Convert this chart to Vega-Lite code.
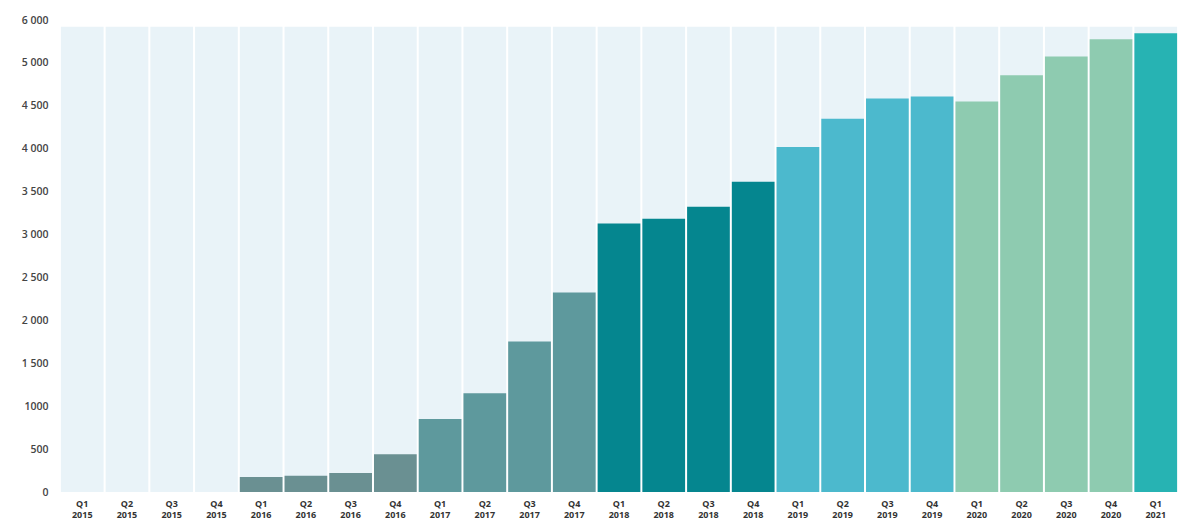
{
  "$schema": "https://vega.github.io/schema/vega-lite/v6.json",
  "width": 1118,
  "height": 472,
  "autosize": {"type": "none"},
  "padding": {"left": 60, "top": 20, "right": 3, "bottom": 38},
  "background": "white",
  "data": {
    "values": [
      {"quarter": "Q1 2015", "year": "2015", "value": 0},
      {"quarter": "Q2 2015", "year": "2015", "value": 0},
      {"quarter": "Q3 2015", "year": "2015", "value": 0},
      {"quarter": "Q4 2015", "year": "2015", "value": 0},
      {"quarter": "Q1 2016", "year": "2016", "value": 175},
      {"quarter": "Q2 2016", "year": "2016", "value": 190},
      {"quarter": "Q3 2016", "year": "2016", "value": 220},
      {"quarter": "Q4 2016", "year": "2016", "value": 440},
      {"quarter": "Q1 2017", "year": "2017", "value": 850},
      {"quarter": "Q2 2017", "year": "2017", "value": 1150},
      {"quarter": "Q3 2017", "year": "2017", "value": 1755},
      {"quarter": "Q4 2017", "year": "2017", "value": 2325},
      {"quarter": "Q1 2018", "year": "2018", "value": 3130},
      {"quarter": "Q2 2018", "year": "2018", "value": 3185},
      {"quarter": "Q3 2018", "year": "2018", "value": 3325},
      {"quarter": "Q4 2018", "year": "2018", "value": 3615},
      {"quarter": "Q1 2019", "year": "2019", "value": 4020},
      {"quarter": "Q2 2019", "year": "2019", "value": 4350},
      {"quarter": "Q3 2019", "year": "2019", "value": 4585},
      {"quarter": "Q4 2019", "year": "2019", "value": 4610},
      {"quarter": "Q1 2020", "year": "2020", "value": 4550},
      {"quarter": "Q2 2020", "year": "2020", "value": 4855},
      {"quarter": "Q3 2020", "year": "2020", "value": 5075},
      {"quarter": "Q4 2020", "year": "2020", "value": 5275},
      {"quarter": "Q1 2021", "year": "2021", "value": 5345}
    ]
  },
  "encoding": {
    "x": {
      "field": "quarter",
      "type": "ordinal",
      "sort": null,
      "scale": {"paddingInner": 0.045, "paddingOuter": 0.02},
      "axis": {
        "title": null,
        "labelAngle": 0,
        "labelExpr": "split(datum.value, ' ')",
        "labelFont": "Open Sans",
        "labelFontSize": 9,
        "labelFontWeight": "bold",
        "labelColor": "#333333",
        "labelLineHeight": 11,
        "labelPadding": 7,
        "domain": false,
        "ticks": false
      }
    }
  },
  "layer": [
    {
      "mark": {"type": "bar", "color": "#e9f3f8"},
      "encoding": {
        "y": {
          "datum": 5420,
          "type": "quantitative",
          "scale": {"domain": [0, 5500]},
          "axis": {
            "title": null,
            "values": [0, 500, 1000, 1500, 2000, 2500, 3000, 3500, 4000, 4500, 5000, 5500],
            "labelExpr": "datum.value == 5500 ? '6 000' : datum.value == 1000 ? '1000' : replace(format(datum.value, ','), ',', ' ')",
            "labelFont": "Open Sans",
            "labelFontSize": 10.5,
            "labelFontWeight": 600,
            "labelColor": "#444444",
            "labelPadding": 12,
            "domain": false,
            "ticks": false,
            "grid": false
          }
        }
      }
    },
    {
      "mark": {"type": "bar"},
      "encoding": {
        "y": {
          "field": "value",
          "type": "quantitative",
          "scale": {"domain": [0, 5500]},
          "axis": {
            "title": null,
            "values": [0, 500, 1000, 1500, 2000, 2500, 3000, 3500, 4000, 4500, 5000, 5500],
            "labelExpr": "datum.value == 5500 ? '6 000' : datum.value == 1000 ? '1000' : replace(format(datum.value, ','), ',', ' ')",
            "labelFont": "Open Sans",
            "labelFontSize": 10.5,
            "labelFontWeight": 600,
            "labelColor": "#444444",
            "labelPadding": 12,
            "domain": false,
            "ticks": false,
            "grid": false
          }
        },
        "color": {
          "field": "year",
          "type": "nominal",
          "scale": {
            "domain": ["2015", "2016", "2017", "2018", "2019", "2020", "2021"],
            "range": ["#6a9092", "#6a9092", "#5e999d", "#05868f", "#4cb9cd", "#8ecbb0", "#27b3b3"]
          },
          "legend": null
        },
        "tooltip": [
          {"field": "quarter", "type": "nominal", "title": "Quarter"},
          {"field": "value", "type": "quantitative", "title": "Value"}
        ]
      }
    }
  ],
  "config": {"view": {"stroke": null}}
}
